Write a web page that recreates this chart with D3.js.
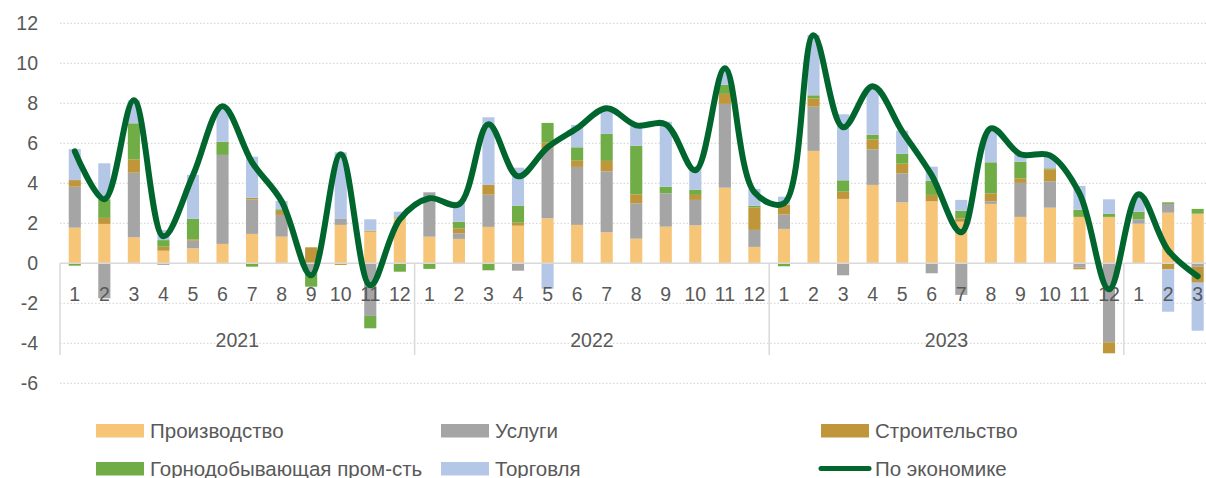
<!DOCTYPE html>
<html>
<head>
<meta charset="utf-8">
<script src="https://cdn.jsdelivr.net/npm/d3@7"></script>
<style>
  body { margin: 0; background: #fff; }
  svg text { font-family: "Liberation Sans", Arial, sans-serif; fill: #595959; }
</style>
</head>
<body>
<div class="chart"></div>
<script>
// month labels and year groups
var months = [1,2,3,4,5,6,7,8,9,10,11,12, 1,2,3,4,5,6,7,8,9,10,11,12, 1,2,3,4,5,6,7,8,9,10,11,12, 1,2,3];
var years = ["2021", "2022", "2023", ""];
var yearCounts = [12, 12, 12, 3];
var yTicks = [-6, -4, -2, 0, 2, 4, 6, 8, 10, 12];

var seriesNames = ["Производство", "Услуги", "Строительство", "Горнодобывающая пром-сть", "Торговля"];
var totalName = "По экономике";

// Производство
var prod = [1.78, 1.97, 1.3, 0.63, 0.75, 0.97, 1.47, 1.33, 0, 1.92, 1.58, 2.25,
            1.33, 1.22, 1.82, 1.88, 2.25, 1.92, 1.55, 1.23, 1.83, 1.9, 3.78, 0.82,
            1.72, 5.62, 3.22, 3.92, 3.05, 3.1, 2.08, 2.97, 2.32, 2.78, 2.32, 2.32,
            1.98, 2.53, 2.48];
// Услуги
var serv = [2.05, -1.75, 3.23, -0.08, 0.38, 4.45, 1.73, 1.09, -0.5, 0.3, -2.63, 0,
            2.22, 0.28, 1.61, -0.37, 3.5, 2.9, 3.05, 1.77, 1.67, 1.27, 4.19, 0.85,
            0.73, 2.21, -0.6, 1.78, 1.45, -0.5, -1.58, 0.13, 1.7, 1.32, -0.22, -3.95,
            0.22, 0.44, -0.17];
// Строительство
var constr = [0.33, 0.3, 0.67, 0.2, 0.07, 0, 0.08, 0.2, 0.8, -0.08, 0.05, 0.05,
              0, 0.25, 0.49, 0.15, 0.28, 0.31, 0.52, 0.45, 0, 0.25, 0.5, 1.13,
              0.47, 0.42, 0.36, 0.5, 0.48, 0.32, 0.17, 0.4, 0.23, 0.6, -0.08, -0.55,
              0, -0.3, -0.8];
// Горнодобывающая пром-сть
var mining = [-0.12, 0.93, 1.8, 0.33, 1.02, 0.66, -0.17, 0.08, -0.67, 0, -0.62, -0.42,
              -0.28, 0.33, -0.35, 0.84, 0.99, 0.67, 1.35, 2.43, 0.33, 0.25, 0.45, 0.07,
              -0.15, 0.15, 0.57, 0.22, 0.49, 0.71, 0.38, 1.55, 0.83, 0.05, 0.36, 0.15,
              0.38, 0.08, 0.24];
// Торговля
var trade = [1.55, 1.8, 1.15, 0.5, 2.2, 1.6, 2.05, 0.42, 0, 3.33, 0.57, 0.28,
             0, 1.0, 3.38, 1.91, -1.27, 1.12, 1.2, 1.04, 3.25, 1.16, 0.75, 0.85,
             0.41, 3.02, 3.3, 2.41, 1.16, 0.7, 0.54, 1.53, 0.42, 0.6, 1.19, 0.73,
             0.75, -2.12, -2.4];
// По экономике
var total = [5.6, 3.2, 8.15, 1.35, 4.4, 7.85, 5.05, 3.1, -0.6, 5.45, -1.1, 2.2,
             3.25, 2.95, 6.95, 4.35, 5.8, 6.75, 7.75, 6.9, 6.95, 4.65, 9.75, 3.55,
             3.0, 11.4, 6.8, 8.85, 6.6, 4.4, 1.55, 6.75, 5.45, 5.4, 3.5, -1.3,
             3.45, 0.65, -0.65];

var colors = ["#F7C577", "#A5A5A5", "#BF9639", "#70AD47", "#B4C7E7"];
var lineColor = "#00662E";
var gridColor = "#D9D9D9";

var svgWidth = 1206, svgHeight = 478;
var plotLeft = 60, step = 29.55;
var plotRight = plotLeft + months.length * step;

var svg = d3.select(".chart").append("svg")
  .attr("width", svgWidth)
  .attr("height", svgHeight);

// table for stacking
var table = months.map(function(m, i) {
  return { i: i, s0: prod[i], s1: serv[i], s2: constr[i], s3: mining[i], s4: trade[i] };
});
var keys = ["s0", "s1", "s2", "s3", "s4"];
var stacked = d3.stack().keys(keys).offset(d3.stackOffsetDiverging)(table);

var x = d3.scaleBand()
  .domain(d3.range(months.length))
  .range([plotLeft, plotRight])
  .paddingInner(0.59)
  .paddingOuter(0.295);

var y = d3.scaleLinear().domain([-6, 12]).range([383.3, 23.3]);

// grid
svg.append("g").selectAll("line")
  .data(yTicks.filter(function(t) { return t !== 0; }))
  .enter().append("line")
  .attr("x1", plotLeft).attr("x2", plotRight)
  .attr("y1", d => y(d)).attr("y2", d => y(d))
  .attr("stroke", gridColor)
  .attr("stroke-width", 1.3)
  .attr("stroke-dasharray", "1.5,2");

// y labels
svg.append("g").selectAll("text")
  .data(yTicks)
  .enter().append("text")
  .attr("x", 38)
  .attr("y", d => y(d))
  .attr("dy", "0.35em")
  .attr("text-anchor", "end")
  .attr("font-size", "19.5px")
  .text(d => d);

// bars
svg.append("g").selectAll("g")
  .data(stacked)
  .enter().append("g")
  .attr("fill", (d, k) => colors[k])
  .selectAll("rect")
  .data(d => d)
  .enter().append("rect")
  .attr("x", d => x(d.data.i))
  .attr("width", x.bandwidth())
  .attr("y", d => y(Math.max(d[0], d[1])))
  .attr("height", d => Math.abs(y(d[0]) - y(d[1])));

// zero axis
svg.append("line")
  .attr("x1", plotLeft).attr("x2", plotRight)
  .attr("y1", y(0)).attr("y2", y(0))
  .attr("stroke", gridColor)
  .attr("stroke-width", 1.5);

// month labels
svg.append("g").selectAll("text")
  .data(months)
  .enter().append("text")
  .attr("x", (d, i) => x(i) + x.bandwidth() / 2)
  .attr("y", 301)
  .attr("text-anchor", "middle")
  .attr("font-size", "19.5px")
  .text(d => d);

// year groups
var starts = [0];
yearCounts.forEach(function(c, k) { starts.push(starts[k] + c); });
var xEdge = d3.scaleLinear().domain([0, months.length]).range([plotLeft, plotRight]);

svg.append("g").selectAll("line")
  .data(starts)
  .enter().append("line")
  .attr("x1", d => xEdge(d)).attr("x2", d => xEdge(d))
  .attr("y1", y(0)).attr("y2", 355)
  .attr("stroke", gridColor)
  .attr("stroke-width", 1.5);

svg.append("g").selectAll("text")
  .data(years)
  .enter().append("text")
  .attr("x", (d, k) => xEdge(starts[k] + yearCounts[k] / 2))
  .attr("y", 347)
  .attr("text-anchor", "middle")
  .attr("font-size", "19.5px")
  .text(d => d);

// total line
var line = d3.line()
  .x((d, i) => x(i) + x.bandwidth() / 2)
  .y(d => y(d))
  .curve(d3.curveCatmullRom.alpha(0.5));

svg.append("path")
  .datum(total)
  .attr("fill", "none")
  .attr("stroke", lineColor)
  .attr("stroke-width", 6)
  .attr("stroke-linejoin", "round")
  .attr("stroke-linecap", "round")
  .attr("d", line);

// legend
var legendPos = [[96, 424], [441, 424], [821, 424], [96, 462], [441, 462]];
var legend = svg.append("g");
seriesNames.forEach(function(name, k) {
  var p = legendPos[k];
  legend.append("rect")
    .attr("x", p[0]).attr("y", p[1])
    .attr("width", 48).attr("height", 13.5)
    .attr("fill", colors[k]);
  legend.append("text")
    .attr("x", p[0] + 54).attr("y", p[1] + 13.5)
    .attr("font-size", "20.5px")
    .text(name);
});
legend.append("line")
  .attr("x1", 821).attr("x2", 869)
  .attr("y1", 468.5).attr("y2", 468.5)
  .attr("stroke", lineColor)
  .attr("stroke-width", 5)
  .attr("stroke-linecap", "round");
legend.append("text")
  .attr("x", 875).attr("y", 475.5)
  .attr("font-size", "20.5px")
  .text(totalName);
</script>
</body>
</html>
